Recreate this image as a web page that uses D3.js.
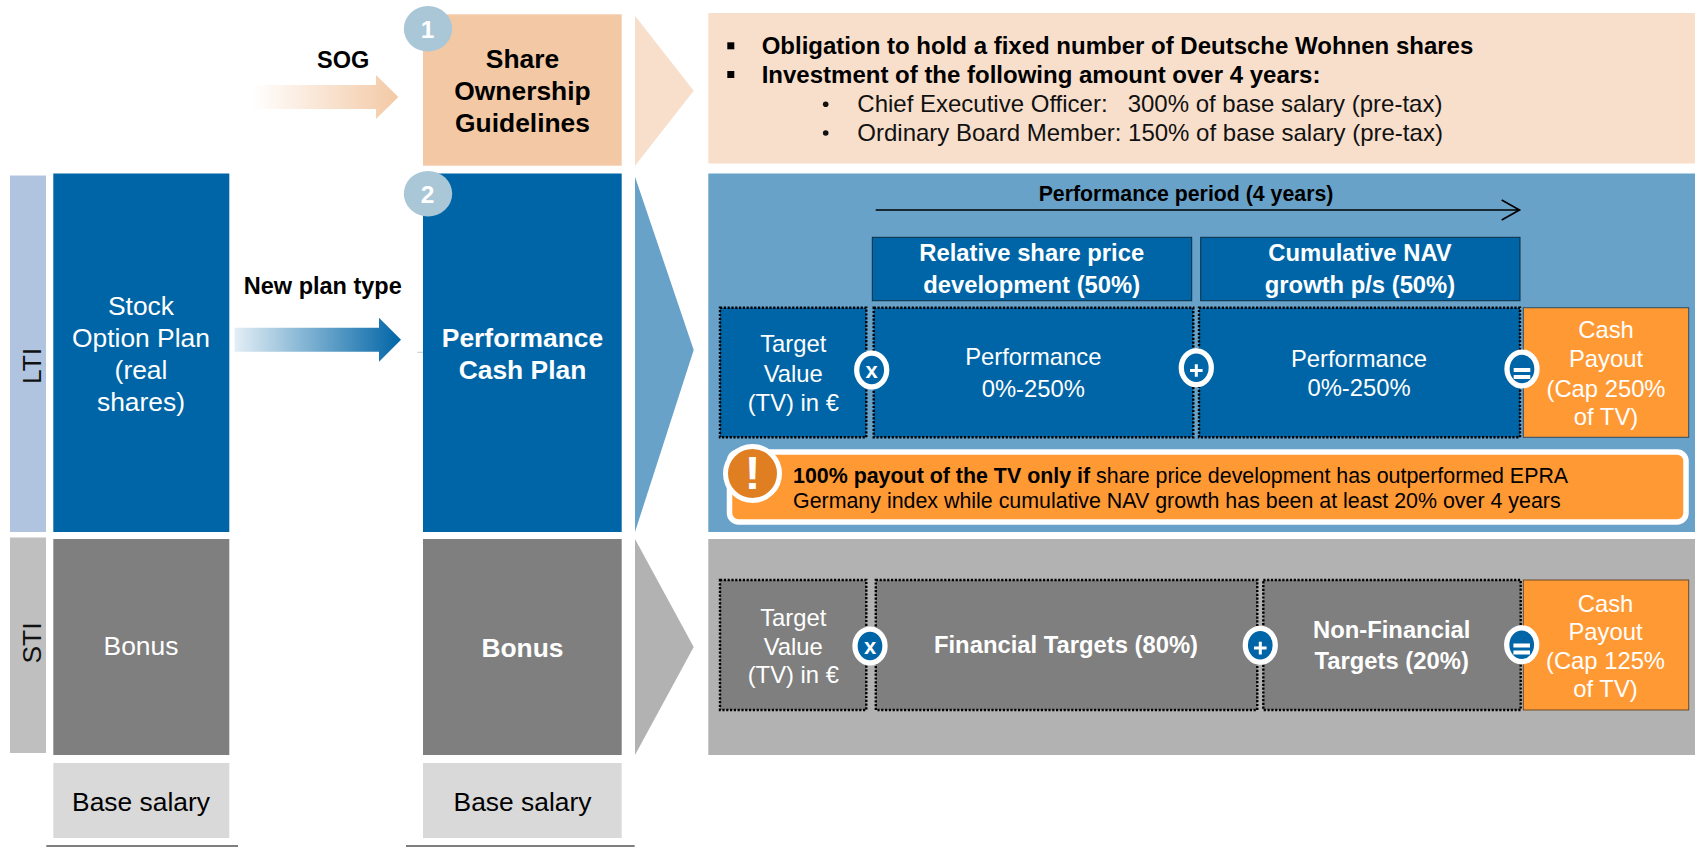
<!DOCTYPE html>
<html>
<head>
<meta charset="utf-8">
<script src="https://cdn.jsdelivr.net/npm/d3@7"></script>
<style>
html, body { margin: 0; padding: 0; background: #fff; overflow: hidden; }
svg { display: block; }
text { font-family: "Liberation Sans", Arial, sans-serif; }
</style>
</head>
<body>
<div id="containerDiv"></div>
<script>
var stripLabels = ["LTI", "STI"];
var oldPlanLabels = [["Stock", "Option Plan", "(real", "shares)"], ["Bonus"], ["Base salary"]];
var newPlanLabels = [["Share", "Ownership", "Guidelines"], ["Performance", "Cash Plan"], ["Bonus"], ["Base salary"]];
var arrowLabels = ["SOG", "New plan type"];
var badgeLabels = ["1", "2"];
var sogBold = ["Obligation to hold a fixed number of Deutsche Wohnen shares", "Investment of the following amount over 4 years:"];
var sogPlain = ["Chief Executive Officer:\u00a0\u00a0 300% of base salary (pre-tax)", "Ordinary Board Member: 150% of base salary (pre-tax)"];
var periodLabel = "Performance period (4 years)";
var headerLabels = [["Relative share price", "development (50%)"], ["Cumulative NAV", "growth p/s (50%)"]];
var targetLabel = ["Target", "Value", "(TV) in \u20ac"];
var perfLabels = [["Performance", "0%-250%"], ["Performance", "0%-250%"]];
var ltiCash = ["Cash", "Payout", "(Cap 250%", "of TV)"];
var stiCash = ["Cash", "Payout", "(Cap 125%", "of TV)"];
var stiLabels = [["Financial Targets (80%)"], ["Non-Financial", "Targets (20%)"]];
var noteBold = "100% payout of the TV only if";
var noteRest = [" share price development has outperformed EPRA", "Germany index while cumulative NAV growth has been at least 20% over 4 years"];

var w = 1698;
var h = 847;
var blue = "#0065A6", grey = "#7F7F7F", orange = "#FF9933";

// layout bands, name -> [start, end]
var X = d3.scaleOrdinal()
  .domain(["strip", "plan", "newPlan", "chevron", "panel", "target", "perf1", "perf2", "cash", "fin", "nonFin", "head1", "head2", "note", "uline1", "uline2"])
  .range([[10, 46], [53.3, 229.3], [423, 621.7], [635, 693.7], [708.3, 1695], [720, 866.3], [873.7, 1193.3], [1199, 1520], [1523.3, 1688.7], [875.8, 1257.3], [1263.3, 1520.7], [872.3, 1191.7], [1200.7, 1520], [729.5, 1686], [46.3, 238], [406, 634.7]]);
var Y = d3.scaleOrdinal()
  .domain(["sog", "lti", "sti", "base", "head", "ltiRow", "stiRow", "note", "ltiStrip", "stiStrip", "sogPanel", "uline"])
  .range([[14.3, 165.7], [173.5, 532], [539, 755], [763, 838], [237.3, 300.7], [307.7, 437.3], [580, 710], [452, 522], [175.5, 532], [537.5, 753], [13, 163.5], [845, 847]]);

var svg = d3.select("#containerDiv").append("svg").attr("width", w).attr("height", h);
var defs = svg.append("defs");

function gradient(id, from, to) {
  var g = defs.append("linearGradient").attr("id", id);
  g.append("stop").attr("offset", "0%").attr("stop-color", from);
  g.append("stop").attr("offset", "100%").attr("stop-color", to);
}
gradient("sogFade", "#FFFFFF", "#F3C9A5");
gradient("planFade", "#E3EEF5", "#0065A6");

function box(xk, yk, fill) {
  return svg.append("rect")
    .attr("x", X(xk)[0])
    .attr("y", Y(yk)[0])
    .attr("width", X(xk)[1] - X(xk)[0])
    .attr("height", Y(yk)[1] - Y(yk)[0])
    .attr("fill", fill);
}

function dotted(xk, yk, fill) {
  return box(xk, yk, fill)
    .attr("stroke", "#000")
    .attr("stroke-width", 2.4)
    .attr("stroke-dasharray", "2.2 1.6");
}

function lines(rows, cx, baselines, size, opts) {
  opts = opts || {};
  svg.append("g").selectAll("text")
    .data(rows)
    .enter()
    .append("text")
    .text(function(d) { return d; })
    .attr("x", cx)
    .attr("y", function(d, i) { return baselines[i]; })
    .attr("text-anchor", opts.anchor || "middle")
    .attr("font-size", size)
    .attr("font-weight", opts.bold ? "bold" : "normal")
    .attr("fill", opts.fill || "#fff");
}

function chevron(y0, y1, tipY, fill) {
  var x0 = X("chevron")[0], x1 = X("chevron")[1];
  svg.append("path")
    .attr("d", d3.line()([[x0, y0], [x1, tipY], [x0, y1]]) + "Z")
    .attr("fill", fill);
}

function arrow(x0, xBase, tip, cy, half, headHalf, fill) {
  svg.append("path")
    .attr("d", d3.line()([[x0, cy - half], [xBase, cy - half], [xBase, cy - headHalf], [tip, cy], [xBase, cy + headHalf], [xBase, cy + half], [x0, cy + half]]) + "Z")
    .attr("fill", fill);
}

function ring(cx, cy) {
  svg.append("ellipse")
    .attr("cx", cx).attr("cy", cy)
    .attr("rx", 15).attr("ry", 16.9)
    .attr("fill", blue).attr("stroke", "#fff").attr("stroke-width", 5.3);
}

function timesOp(cx, cy) {
  ring(cx, cy);
  lines(["x"], cx, [cy + 8.3], 22, { bold: true });
}

function plusOp(cx, cy) {
  ring(cx, cy);
  svg.append("path")
    .attr("d", "M" + (cx - 6.3) + "," + (cy + 2.8) + "h12.6M" + cx + "," + (cy - 3.5) + "v12.6")
    .attr("stroke", "#fff").attr("stroke-width", 3).attr("fill", "none");
}

function equalsOp(cx, cy) {
  ring(cx, cy);
  svg.append("path")
    .attr("d", "M" + (cx - 8.3) + "," + (cy + 0.9) + "h16.6M" + (cx - 8.3) + "," + (cy + 7.9) + "h16.6")
    .attr("stroke", "#fff").attr("stroke-width", 4).attr("fill", "none");
}

// left column
box("strip", "ltiStrip", "#B0C4DF");
box("strip", "stiStrip", "#BFBFBF");
box("plan", "lti", blue);
box("plan", "sti", grey);
box("plan", "base", "#D9D9D9");
box("uline1", "uline", grey);

stripLabels.forEach(function(d, i) {
  var cy = [366, 643][i];
  svg.append("text")
    .text(d)
    .attr("text-anchor", "middle")
    .attr("transform", "translate(41," + cy + ") rotate(-90)")
    .attr("font-size", 26.4)
    .attr("fill", "#111");
});

lines(oldPlanLabels[0], 141, [315, 347.3, 379.3, 410.7], 26.4);
lines(oldPlanLabels[1], 141, [655], 26.4);
lines(oldPlanLabels[2], 141, [811], 26.4, { fill: "#000" });

// arrows between columns
arrow(251.7, 376, 398.3, 97, 12, 22, "url(#sogFade)");
arrow(234.7, 379, 401, 339.7, 12, 22, "url(#planFade)");
lines([arrowLabels[0]], 343.2, [67.7], 23.5, { bold: true, fill: "#000" });
lines([arrowLabels[1]], 322.8, [294], 23.5, { bold: true, fill: "#000" });
svg.append("line").attr("x1", 417.3).attr("x2", 423).attr("y1", 352.3).attr("y2", 352.3).attr("stroke", "#BFC9D2");

// middle column
box("newPlan", "sog", "#F3C9A5");
box("newPlan", "lti", blue);
box("newPlan", "sti", grey);
box("newPlan", "base", "#D9D9D9");
box("uline2", "uline", grey);
lines(newPlanLabels[0], 522.5, [67.7, 100, 131.7], 26.4, { bold: true, fill: "#000" });
lines(newPlanLabels[1], 522.5, [347, 379], 26.4, { bold: true });
lines(newPlanLabels[2], 522.5, [657], 26.4, { bold: true });
lines(newPlanLabels[3], 522.5, [811], 26.4, { fill: "#000" });

svg.append("g").selectAll("g")
  .data(badgeLabels)
  .enter()
  .append("g")
  .each(function(d, i) {
    var cy = [28.8, 193.7][i];
    d3.select(this).append("ellipse")
      .attr("cx", 428).attr("cy", cy).attr("rx", 24.2).attr("ry", 22.8)
      .attr("fill", "#A9C7D7");
    d3.select(this).append("text").text(d)
      .attr("x", 427.5).attr("y", cy + 9.3)
      .attr("text-anchor", "middle").attr("font-size", 24.5).attr("font-weight", "bold").attr("fill", "#fff");
  });

// chevrons and panels
chevron(15.7, 165.7, 90.7, "#F8DFCB");
chevron(176.7, 532, 350, "#68A2C8");
chevron(539, 755, 647, "#B2B2B2");
box("panel", "sogPanel", "#F8DFCB");
box("panel", "lti", "#68A2C8");
box("panel", "sti", "#B2B2B2");

// SOG panel
lines(sogBold, 761.7, [54, 82.7], 24, { bold: true, anchor: "start", fill: "#000" });
lines(sogPlain, 857.3, [112, 140.7], 24, { anchor: "start", fill: "#111" });
svg.append("g").selectAll("rect").data(sogBold).enter().append("rect")
  .attr("x", 727.3).attr("y", function(d, i) { return [42.3, 71][i]; })
  .attr("width", 7).attr("height", 7).attr("fill", "#000");
svg.append("g").selectAll("circle").data(sogPlain).enter().append("circle")
  .attr("cx", 825.7).attr("cy", function(d, i) { return [104.3, 133][i]; })
  .attr("r", 2.8).attr("fill", "#111");

// LTI panel
lines([periodLabel], 1186, [201], 21.3, { bold: true, fill: "#000" });
svg.append("path")
  .attr("d", "M875.7,210H1519.5M1501.7,200L1519.5,210L1501.7,220")
  .attr("fill", "none").attr("stroke", "#000").attr("stroke-width", 1.7);

box("head1", "head", blue).attr("stroke", "#0b2d47").attr("stroke-width", 1);
box("head2", "head", blue).attr("stroke", "#0b2d47").attr("stroke-width", 1);
lines(headerLabels[0], 1031.7, [260.7, 292.7], 23.8, { bold: true });
lines(headerLabels[1], 1360, [260.7, 292.7], 23.8, { bold: true });

dotted("target", "ltiRow", blue);
dotted("perf1", "ltiRow", blue);
dotted("perf2", "ltiRow", blue);
box("cash", "ltiRow", orange).attr("stroke", "#2f4d66").attr("stroke-width", 1);
lines(targetLabel, 793.3, [352.3, 381.7, 410.7], 23.8);
lines(perfLabels[0], 1033.3, [365, 396.7], 23.8);
lines(perfLabels[1], 1359, [366.7, 396], 23.8);
lines(ltiCash, 1606, [338.3, 366.7, 396.7, 425], 23.8);
timesOp(871.7, 370);
plusOp(1196.3, 367.7);
equalsOp(1522, 369);

// callout
box("note", "note", orange)
  .attr("rx", 9).attr("ry", 9)
  .attr("stroke", "#fff").attr("stroke-width", 5.5);
svg.append("circle")
  .attr("cx", 752.5).attr("cy", 473.5).attr("r", 27)
  .attr("fill", "#E07F22").attr("stroke", "#fff").attr("stroke-width", 5);
svg.append("text").text("!")
  .attr("x", 752.5).attr("y", 489.3)
  .attr("text-anchor", "middle").attr("font-size", 47).attr("font-weight", "bold").attr("fill", "#fff");
var note = svg.append("text").attr("x", 793).attr("y", 483).attr("font-size", 21.4).attr("fill", "#000");
note.append("tspan").attr("font-weight", "bold").text(noteBold);
note.append("tspan").text(noteRest[0]);
svg.append("text").text(noteRest[1]).attr("x", 793).attr("y", 508).attr("font-size", 21.4).attr("fill", "#000");

// STI panel
dotted("target", "stiRow", grey);
dotted("fin", "stiRow", grey);
dotted("nonFin", "stiRow", grey);
box("cash", "stiRow", orange).attr("stroke", "#6b4a2a").attr("stroke-width", 1);
lines(targetLabel, 793.3, [626, 654.7, 683], 23.8);
lines(stiLabels[0], 1066, [653.3], 23.8, { bold: true });
lines(stiLabels[1], 1391.7, [637.7, 669.3], 23.8, { bold: true });
lines(stiCash, 1605.5, [611.7, 639.5, 669.3, 697.3], 23.8);
timesOp(870, 646);
plusOp(1260.3, 645.3);
equalsOp(1521.7, 644.7);
</script>
</body>
</html>
